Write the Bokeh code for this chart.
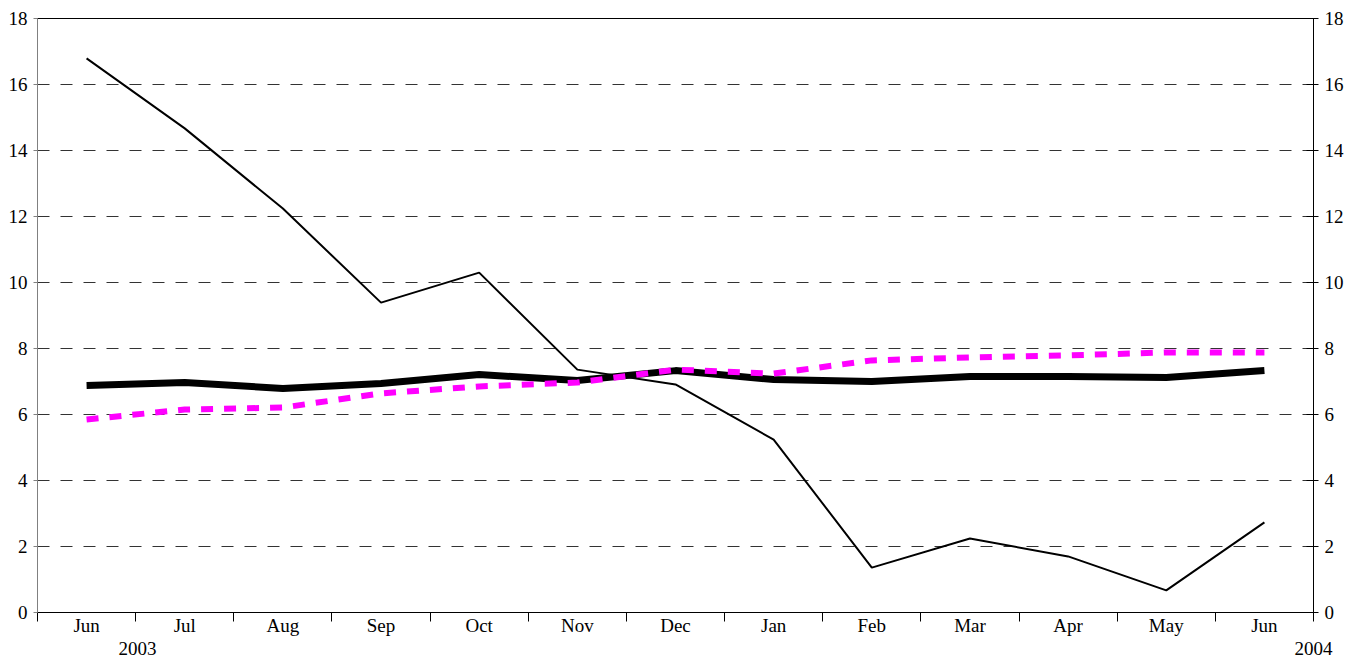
from bokeh.plotting import figure
from bokeh.models import Range1d, LinearAxis, FixedTicker
from bokeh.embed import file_html
from bokeh.resources import INLINE

months = ["Jun", "Jul", "Aug", "Sep", "Oct", "Nov", "Dec", "Jan", "Feb", "Mar", "Apr", "May", "Jun"]
years = ["2003", "2004"]
thin_series = [16.79, 14.67, 12.24, 9.39, 10.30, 7.36, 6.91, 5.24, 1.36, 2.24, 1.70, 0.67, 2.73]
thick_series = [6.88, 6.97, 6.79, 6.94, 7.21, 7.03, 7.33, 7.06, 7.00, 7.15, 7.15, 7.12, 7.33]
magenta_series = [5.85, 6.15, 6.21, 6.64, 6.85, 6.97, 7.36, 7.24, 7.64, 7.73, 7.79, 7.88, 7.88]
y_ticks = [0, 2, 4, 6, 8, 10, 12, 14, 16, 18]

FONT = "Liberation Serif"
FS = "19px"

n = len(months)
xs = [i + 0.5 for i in range(n)]
year_pos = [1.02, 13.0]

p = figure(width=1358, height=657, x_range=Range1d(0, n), y_range=Range1d(0, 18),
           output_backend="svg", toolbar_location=None,
           min_border_left=37, min_border_right=45, min_border_top=18, min_border_bottom=45)
p.background_fill_color = "white"
p.border_fill_color = "white"
p.outline_line_color = "black"
p.outline_line_width = 1

# grid
p.xgrid.grid_line_color = None
p.ygrid.ticker = FixedTicker(ticks=y_ticks)
p.ygrid.grid_line_color = "#333333"
p.ygrid.grid_line_dash = "12 11"
p.ygrid.grid_line_width = 1

# x axis (months)
xa = p.xaxis[0]
xa.ticker = FixedTicker(ticks=xs, minor_ticks=list(range(n + 1)))
xa.major_label_overrides = {x: m for x, m in zip(xs, months)}
xa.major_tick_out = 0
xa.major_tick_in = 0
xa.minor_tick_out = 9
xa.minor_tick_in = 0
xa.minor_tick_line_color = "black"
xa.axis_line_color = "black"
xa.major_label_standoff = -7
xa.major_label_text_font = FONT
xa.major_label_text_font_size = FS
xa.major_label_text_color = "black"

# second x axis (years)
ya2 = LinearAxis(ticker=FixedTicker(ticks=year_pos, minor_ticks=[]))
ya2.major_label_overrides = {x: y for x, y in zip(year_pos, years)}
ya2.axis_line_color = None
ya2.major_tick_line_color = None
ya2.minor_tick_line_color = None
ya2.major_tick_out = 0
ya2.major_tick_in = 0
ya2.minor_tick_out = 0
ya2.minor_tick_in = 0
ya2.major_label_standoff = 3
ya2.major_label_text_font = FONT
ya2.major_label_text_font_size = FS
ya2.major_label_text_color = "black"
p.add_layout(ya2, "below")

# left y axis
ya = p.yaxis[0]
ya.ticker = FixedTicker(ticks=y_ticks)
ya.minor_tick_line_color = None
ya.major_tick_out = 4
ya.major_tick_in = 0
ya.axis_line_color = "#808080"
ya.major_tick_line_color = "#808080"
ya.major_label_standoff = 6
ya.major_label_text_font = FONT
ya.major_label_text_font_size = FS
ya.major_label_text_color = "black"

# right y axis
ra = LinearAxis(ticker=FixedTicker(ticks=y_ticks))
ra.minor_tick_line_color = None
ra.major_tick_out = 5
ra.major_tick_in = 7
ra.axis_line_color = "black"
ra.major_label_standoff = 6
ra.major_label_text_font = FONT
ra.major_label_text_font_size = FS
ra.major_label_text_color = "black"
p.add_layout(ra, "right")

# series
p.line(xs, thin_series, line_color="black", line_width=2)
p.line(xs, thick_series, line_color="black", line_width=7)
p.line(xs, magenta_series, line_color="#FF00FF", line_width=6, line_dash="12 11")

open("out.html", "w").write(file_html(p, INLINE))
